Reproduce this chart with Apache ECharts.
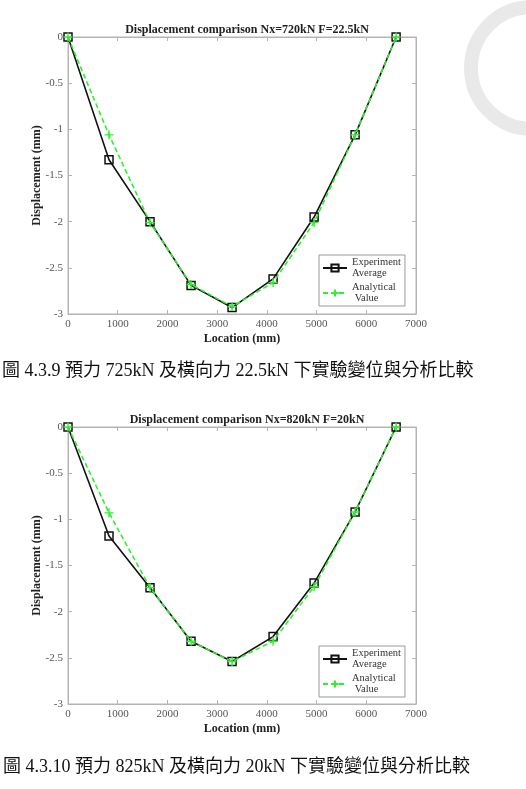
<!DOCTYPE html>
<html><head><meta charset="utf-8">
<script src="https://cdn.jsdelivr.net/npm/echarts@6/dist/echarts.min.js"></script>
<style>html,body{margin:0;padding:0;background:#fff}#c{width:526px;height:789px}</style>
</head><body><div id="c"></div>
<script>
const location_mm = [0, 825, 1650, 2475, 3300, 4125, 4950, 5775, 6600];
const exp1 = [0, -1.33, -2.0, -2.69, -2.93, -2.62, -1.95, -1.06, 0];
const ana1 = [0, -1.06, -2.01, -2.68, -2.92, -2.66, -2.01, -1.06, 0];
const exp2 = [0, -1.18, -1.74, -2.32, -2.54, -2.27, -1.69, -0.92, 0];
const ana2 = [0, -0.93, -1.74, -2.32, -2.54, -2.32, -1.73, -0.92, 0];
const titles = ['Displacement comparison Nx=720kN F=22.5kN', 'Displacement comparison Nx=820kN F=20kN'];
const captions = ['圖 4.3.9 預力 725kN 及橫向力 22.5kN 下實驗變位與分析比較', '圖 4.3.10 預力 825kN 及橫向力 20kN 下實驗變位與分析比較'];
const seriesNames = ['Experiment Average', 'Analytical Value'];

const serif = '"Liberation Serif", "Times New Roman", serif';
const axisGray = '#b4b4b4';
const grids = [
  {left: 68, top: 37, width: 348, height: 277, show: true, borderColor: axisGray, borderWidth: 1, backgroundColor: 'transparent'},
  {left: 68, top: 427, width: 348, height: 277, show: true, borderColor: axisGray, borderWidth: 1, backgroundColor: 'transparent'}
];
const legendTops = [255, 646];

const lineCfg = {show: true, onZero: false, lineStyle: {color: axisGray, width: 1}};
const tickCfg = {show: true, inside: true, length: 4, lineStyle: {color: axisGray}};

function xAxes(i) {
  return [{
    type: 'value', gridIndex: i, position: 'bottom', min: 0, max: 7000, interval: 1000,
    name: 'Location (mm)', nameLocation: 'middle', nameGap: 19, nameMoveOverlap: false,
    nameTextStyle: {fontFamily: serif, fontWeight: 'bold', fontSize: 12, color: '#222'},
    axisLine: lineCfg, axisTick: tickCfg,
    axisLabel: {fontFamily: serif, fontSize: 11, color: '#555', margin: 5, formatter: v => String(v)},
    splitLine: {show: false}
  }, {
    type: 'value', gridIndex: i, position: 'top', min: 0, max: 7000, interval: 1000,
    axisLine: lineCfg, axisTick: tickCfg,
    axisLabel: {show: false}, splitLine: {show: false}
  }];
}
function yAxes(i) {
  return [{
    type: 'value', gridIndex: i, position: 'left', min: -3, max: 0, interval: 0.5,
    name: 'Displacement (mm)', nameLocation: 'middle', nameGap: 25, nameRotate: 90, nameMoveOverlap: false,
    nameTextStyle: {fontFamily: serif, fontWeight: 'bold', fontSize: 12, color: '#222'},
    axisLine: lineCfg, axisTick: tickCfg,
    axisLabel: {fontFamily: serif, fontSize: 11, color: '#555', margin: 5},
    splitLine: {show: false}
  }, {
    type: 'value', gridIndex: i, position: 'right', min: -3, max: 0, interval: 0.5,
    axisLine: lineCfg, axisTick: tickCfg,
    axisLabel: {show: false}, splitLine: {show: false}
  }];
}
const plus = 'path://M0,5L10,5M5,0L5,10';
function seriesFor(i, expV, anaV) {
  return [{
    name: seriesNames[0], type: 'line', xAxisIndex: i * 2, yAxisIndex: i * 2,
    data: location_mm.map((x, k) => [x, expV[k]]),
    symbol: 'rect', symbolSize: 8,
    lineStyle: {color: '#111', width: 1.6},
    itemStyle: {color: 'rgba(0,0,0,0)', borderColor: '#111', borderWidth: 1.5},
    emphasis: {disabled: true}, animation: false, z: 2
  }, {
    name: seriesNames[1], type: 'line', xAxisIndex: i * 2, yAxisIndex: i * 2,
    data: location_mm.map((x, k) => [x, anaV[k]]),
    symbol: plus, symbolSize: 9,
    lineStyle: {color: '#2ef02e', width: 1.6, type: [5, 3]},
    itemStyle: {color: '#2ef02e', borderColor: '#2ef02e', borderWidth: 1.4},
    emphasis: {disabled: true}, animation: false, z: 3
  }];
}
const legends = legendTops.map(t => ({
  left: 319, top: t, orient: 'vertical',
  data: seriesNames, itemWidth: 24, itemHeight: 9, itemGap: 3,
  padding: [2, 4, 2, 3], borderColor: '#999', borderWidth: 1, backgroundColor: '#fff',
  formatter: n => n === seriesNames[0] ? 'Experiment\nAverage' : 'Analytical\n Value',
  textStyle: {fontFamily: serif, fontSize: 10.5, lineHeight: 11, color: '#333'},
  selectedMode: false
}));

const chart = echarts.init(document.getElementById('c'), null, {renderer: 'canvas'});
chart.setOption({
  backgroundColor: '#fff',
  animation: false,
  title: [
    {text: titles[0], left: 242, top: 19, textAlign: 'center', textStyle: {fontFamily: serif, fontWeight: 'bold', fontSize: 12, color: '#222'}},
    {text: titles[1], left: 242, top: 409, textAlign: 'center', textStyle: {fontFamily: serif, fontWeight: 'bold', fontSize: 12, color: '#222'}}
  ],
  grid: grids,
  xAxis: [...xAxes(0), ...xAxes(1)],
  yAxis: [...yAxes(0), ...yAxes(1)],
  legend: legends,
  series: [...seriesFor(0, exp1, ana1), ...seriesFor(1, exp2, ana2)],
  graphic: [
    {type: 'circle', shape: {cx: 532, cy: 68, r: 61}, style: {fill: 'none', stroke: '#e9e9e9', lineWidth: 14}, silent: true, z: -1},
    {type: 'text', left: 2, top: 362, style: {text: captions[0], font: '18px "Liberation Serif", "Noto Sans CJK TC", serif', fill: '#111'}},
    {type: 'text', left: 3, top: 758, style: {text: captions[1], font: '18px "Liberation Serif", "Noto Sans CJK TC", serif', fill: '#111'}}
  ]
});
</script></body></html>
